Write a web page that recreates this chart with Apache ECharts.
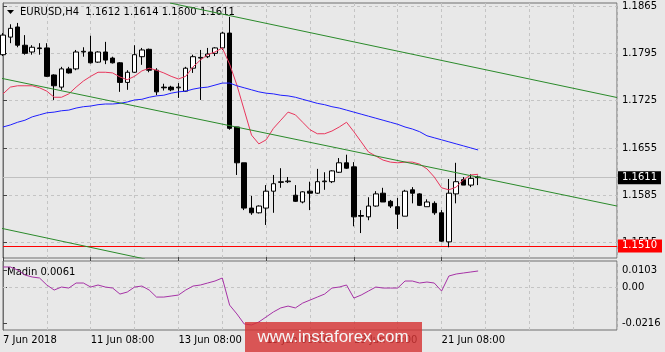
<!DOCTYPE html>
<html><head><meta charset="utf-8">
<script src="https://cdn.jsdelivr.net/npm/echarts@6/dist/echarts.min.js"></script>
<style>html,body{margin:0;padding:0;background:#e8e8e8;}#c{width:665px;height:352px;}</style>
</head><body><div id="c"></div>
<script>
const opens  = [1.1793,1.1819,1.1834,1.1807,1.1797,1.1803,1.1803,1.1763,1.1745,1.1772,1.1772,1.1797,1.1797,1.1782,1.1797,1.1788,1.1781,1.1752,1.1767,1.1790,1.1801,1.1770,1.1745,1.1745,1.1744,1.1739,1.1773,1.1788,1.1790,1.1795,1.1803,1.1825,1.1686,1.1633,1.1566,1.1559,1.1566,1.1591,1.1604,1.1605,1.1585,1.1575,1.1591,1.1588,1.1605,1.1605,1.1619,1.1633,1.1627,1.1555,1.1553,1.1569,1.1588,1.1576,1.1568,1.1554,1.1593,1.1587,1.1568,1.1573,1.1559,1.1516,1.1587,1.1608,1.1600,1.1612];
const highs  = [1.1825,1.1838,1.1840,1.1822,1.1807,1.1810,1.1810,1.1764,1.1775,1.1775,1.1800,1.1804,1.1821,1.1798,1.1812,1.1790,1.1782,1.1770,1.1807,1.1803,1.1802,1.1773,1.1750,1.1747,1.1751,1.1775,1.1793,1.1800,1.1803,1.1804,1.1827,1.1849,1.1686,1.1633,1.1584,1.1570,1.1600,1.1615,1.1625,1.1612,1.1600,1.1591,1.1605,1.1624,1.1619,1.1622,1.1640,1.1645,1.1634,1.1563,1.1582,1.1591,1.1596,1.1578,1.1581,1.1593,1.1597,1.1588,1.1579,1.1576,1.1563,1.1609,1.1633,1.1612,1.1616,1.1614];
const lows   = [1.1791,1.1810,1.1804,1.1793,1.1793,1.1793,1.1760,1.1726,1.1741,1.1765,1.1770,1.1790,1.1780,1.1781,1.1779,1.1780,1.1738,1.1741,1.1766,1.1778,1.1767,1.1733,1.1740,1.1739,1.1729,1.1738,1.1766,1.1726,1.1788,1.1791,1.1800,1.1682,1.1615,1.1563,1.1556,1.1558,1.1541,1.1559,1.1596,1.1603,1.1575,1.1573,1.1563,1.1587,1.1593,1.1603,1.1618,1.1624,1.1539,1.1529,1.1548,1.1568,1.1575,1.1566,1.1535,1.1554,1.1573,1.1569,1.1568,1.1556,1.1516,1.1508,1.1573,1.1600,1.1597,1.1600];
const closes = [1.1822,1.1832,1.1807,1.1795,1.1804,1.1802,1.1761,1.1747,1.1772,1.1766,1.1797,1.1798,1.1781,1.1797,1.1785,1.1781,1.1752,1.1767,1.1793,1.1800,1.1770,1.1738,1.1744,1.1741,1.1745,1.1773,1.1790,1.1789,1.1794,1.1803,1.1825,1.1684,1.1633,1.1566,1.1559,1.1569,1.1591,1.1602,1.1605,1.1606,1.1576,1.1590,1.1588,1.1605,1.1606,1.1621,1.1633,1.1625,1.1553,1.1554,1.1569,1.1587,1.1575,1.1569,1.1557,1.1591,1.1588,1.1570,1.1575,1.1559,1.1517,1.1588,1.1605,1.1600,1.1610,1.1611];
const redMA  = [1.1735,1.1745,1.1747,1.1747,1.1747,1.1744,1.1739,1.1730,1.1730,1.1735,1.1745,1.1754,1.1761,1.1767,1.1767,1.1766,1.1760,1.1756,1.1761,1.1769,1.1773,1.1770,1.1766,1.1761,1.1757,1.1761,1.1775,1.1785,1.1793,1.1797,1.1803,1.1779,1.1748,1.1711,1.1674,1.1661,1.1667,1.1684,1.1696,1.1708,1.1704,1.1693,1.1682,1.1676,1.1676,1.1680,1.1686,1.1693,1.1679,1.1664,1.1649,1.1643,1.1637,1.1634,1.1633,1.1634,1.1634,1.1631,1.1624,1.1612,1.1596,1.1593,1.1597,1.1608,1.1615,1.1616];
const blueMA = [1.1686,1.1689,1.1693,1.1696,1.1701,1.1704,1.1707,1.1708,1.1710,1.1711,1.1714,1.1716,1.1717,1.1719,1.1720,1.1720,1.1721,1.1723,1.1726,1.1727,1.1730,1.1732,1.1733,1.1736,1.1738,1.1739,1.1742,1.1744,1.1745,1.1748,1.1751,1.1751,1.1747,1.1744,1.1741,1.1738,1.1736,1.1735,1.1733,1.1732,1.1730,1.1727,1.1724,1.1721,1.1719,1.1716,1.1714,1.1711,1.1708,1.1705,1.1702,1.1699,1.1696,1.1693,1.1690,1.1686,1.1683,1.1679,1.1673,1.1670,1.1667,1.1664,1.1661,1.1658,1.1655,1.1652];
const madin  = [0.0121,0.0121,0.0103,0.0073,0.0061,0.0055,0.0013,-0.0017,0.0001,-0.0005,0.0025,0.0025,0.0001,0.0013,0.0001,-0.0005,-0.0041,-0.0029,0.0001,0.0007,-0.0017,-0.0059,-0.0059,-0.0053,-0.0047,-0.0017,0.0007,0.0013,0.0025,0.0037,0.0055,-0.0107,-0.0160,-0.0220,-0.0226,-0.0208,-0.0178,-0.0148,-0.0124,-0.0113,-0.0124,-0.0095,-0.0077,-0.0059,-0.0041,-0.0005,0.0001,0.0013,-0.0065,-0.0047,-0.0023,0.0001,-0.0005,-0.0005,-0.0005,0.0037,0.0037,0.0025,0.0031,0.0025,-0.0023,0.0067,0.0079,0.0085,0.0091,0.0097];
const channelUpper = [[22.85,1.18695],[84,1.17296]];
const channelMiddle = [[-0.41,1.17585],[84,1.15690]];
const channelLower = [[-0.41,1.15365],[19.43,1.14906]];
const priceTicks = [1.1865,1.1795,1.1725,1.1655,1.1585,1.1515];
const indTicks = [0.0103,0,-0.0216];
const lastPrice = 1.1611;
const supportLevel = 1.1510;
const labelIdx = [0,12,24,36,48,60];
const labelText = ['7 Jun 2018','11 Jun 08:00','13 Jun 08:00','15 Jun 08:00','19 Jun 08:00','21 Jun 08:00'];
const header = 'EURUSD,H4  1.1612 1.1614 1.1600 1.1611';
const indName = 'Madin 0.0061';

const FF = 'DejaVu Sans';
const gridLine = {show:true, lineStyle:{color:'#c4c4c4', type:[3,3], width:1}};
const candleData = opens.map((o,i)=>[i,o,closes[i],lows[i],highs[i]]);
const toXY = arr => arr.map((v,i)=>[i,v]);

const chart = echarts.init(document.getElementById('c'), null, {renderer:'canvas'});
chart.setOption({
  animation:false,
  backgroundColor:'#e8e8e8',
  grid:[
    {left:3, right:48, top:3, height:255, show:true, borderColor:'#6e6e6e', borderWidth:1, backgroundColor:'transparent'},
    {left:3, right:48, top:261, height:69, show:true, borderColor:'#6e6e6e', borderWidth:1, backgroundColor:'transparent'}
  ],
  xAxis:[
    {gridIndex:0, type:'value', min:0, max:84, interval:6, axisLine:{show:false}, axisTick:{show:false}, axisLabel:{show:false}, splitLine:gridLine},
    {gridIndex:1, type:'value', min:0, max:84, interval:6, axisLine:{show:false}, axisTick:{show:false},
      axisLabel:{show:true, align:'left', margin:5, color:'#000', fontFamily:FF, fontSize:10,
        formatter:v=>{const k=labelIdx.indexOf(Math.round(v)); return k>=0?labelText[k]:'';}},
      splitLine:gridLine},
    {gridIndex:1, type:'value', min:0, max:84, axisLine:{show:false}, axisLabel:{show:false}, splitLine:{show:false},
      axisTick:{show:true, customValues:labelIdx, length:4, lineStyle:{color:'#444'}}}
  ],
  yAxis:[
    {gridIndex:0, type:'value', position:'right', min:1.14921, max:1.18695,
      axisLine:{show:true, lineStyle:{color:'#6e6e6e'}},
      axisTick:{show:true, customValues:priceTicks, length:4, lineStyle:{color:'#444'}},
      axisLabel:{customValues:priceTicks, margin:5, color:'#000', fontFamily:FF, fontSize:10, formatter:v=>v.toFixed(4)},
      splitLine:gridLine},
    {gridIndex:1, type:'value', position:'right', min:-0.02561, max:0.01568,
      axisLine:{show:true, lineStyle:{color:'#6e6e6e'}},
      axisTick:{show:true, customValues:indTicks, length:4, lineStyle:{color:'#444'}},
      axisLabel:{customValues:indTicks, margin:5, color:'#000', fontFamily:FF, fontSize:10, formatter:v=>Math.abs(v)<1e-9?'0.00':v.toFixed(4)},
      splitLine:{show:false}}
  ],
  series:[
    {type:'candlestick', xAxisIndex:0, yAxisIndex:0, data:candleData, barWidth:5, z:3,
      itemStyle:{color:'#ffffff', color0:'#000000', borderColor:'#000000', borderColor0:'#000000', borderWidth:1},
      markLine:{silent:true, symbol:['none','none'], z:2, precision:4,
        data:[
          {yAxis:lastPrice, lineStyle:{color:'#c0c0c0', width:1, type:'solid'},
            label:{show:true, position:'end', distance:1, formatter:()=>lastPrice.toFixed(4), color:'#fff', backgroundColor:'#000', padding:[2,4,1,4], fontFamily:FF, fontSize:10}},
          {yAxis:supportLevel, lineStyle:{color:'#ff0000', width:1, type:'solid'},
            label:{show:true, position:'end', distance:1, formatter:()=>supportLevel.toFixed(4), color:'#fff', backgroundColor:'#ff0000', padding:[2,5,1,4], fontFamily:FF, fontSize:10}}
        ]}},
    {type:'line', xAxisIndex:0, yAxisIndex:0, data:toXY(redMA), showSymbol:false, z:5, lineStyle:{color:'#e8365c', width:1}},
    {type:'line', xAxisIndex:0, yAxisIndex:0, data:toXY(blueMA), showSymbol:false, z:5, lineStyle:{color:'#1f1fff', width:1}},
    {type:'line', xAxisIndex:0, yAxisIndex:0, data:channelUpper, showSymbol:false, z:6, clip:true, lineStyle:{color:'#2a8a2a', width:1}},
    {type:'line', xAxisIndex:0, yAxisIndex:0, data:channelMiddle, showSymbol:false, z:6, clip:true, lineStyle:{color:'#2a8a2a', width:1}},
    {type:'line', xAxisIndex:0, yAxisIndex:0, data:channelLower, showSymbol:false, z:6, clip:true, lineStyle:{color:'#2a8a2a', width:1}},
    {type:'line', xAxisIndex:1, yAxisIndex:1, data:toXY(madin), showSymbol:false, z:5, lineStyle:{color:'#a632a6', width:1},
      markLine:{silent:true, symbol:['none','none'], z:1, precision:4, label:{show:false},
        data:[{yAxis:0, lineStyle:{color:'#c4c4c4', type:[3,3], width:1}}]}}
  ],
  graphic:[
    {type:'polygon', shape:{points:[[7,10],[14,10],[10.5,14]]}, style:{fill:'#000'}},
    {type:'text', x:20, y:12, style:{text:header, fill:'#000', fontFamily:FF, fontSize:10, verticalAlign:'middle'}},
    {type:'text', x:7, y:272, style:{text:indName, fill:'#000', fontFamily:FF, fontSize:10, verticalAlign:'middle'}},
    {type:'rect', shape:{x:245, y:322, width:177, height:30}, style:{fill:'rgba(214,52,52,0.82)'}, z:100},
    {type:'text', x:333, y:337, style:{text:'www.instaforex.com', fill:'#f6f6f6', fontFamily:'Liberation Sans', fontSize:17, align:'center', verticalAlign:'middle'}, z:101}
  ]
});
</script>
</body></html>
